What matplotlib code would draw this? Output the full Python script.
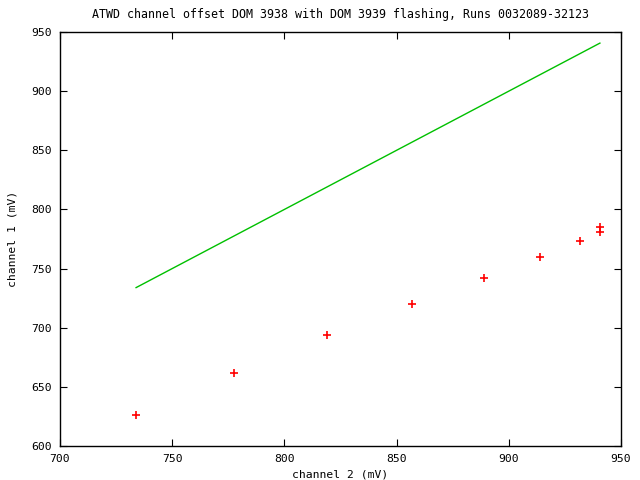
import matplotlib
matplotlib.use("Agg")
import matplotlib.pyplot as plt

ch2 = [733.9, 777.5, 819.0, 857.0, 889.0, 913.9, 931.7, 940.6, 940.6]
ch1 = [626.2, 661.7, 693.8, 720.0, 742.0, 759.6, 773.4, 784.9, 780.9]
line_x = [733.9, 940.6]
line_y = [733.9, 940.6]
xticks = [700, 750, 800, 850, 900, 950]
yticks = [600, 650, 700, 750, 800, 850, 900, 950]

plt.rcParams['font.family'] = ['DejaVu Sans Mono']
fig = plt.figure(figsize=(6.4, 4.8), dpi=100)
ax = fig.add_axes([60/640, 34/480, 561/640, 414/480])
ax.plot(line_x, line_y, color='#00c000', lw=1)
ax.plot(ch2, ch1, '+', color='#ff0000', ms=5.5, mew=1.2)
ax.set_xlim(700, 950)
ax.set_ylim(600, 950)
ax.set_xticks(xticks)
ax.set_yticks(yticks)
ax.tick_params(direction='in', top=True, right=True, labelsize=8.2, length=5, pad=6)
for s in ax.spines.values():
    s.set_linewidth(1)
ax.set_title('ATWD channel offset DOM 3938 with DOM 3939 flashing, Runs 0032089-32123', fontsize=8.4, pad=10)
ax.set_xlabel('channel 2 (mV)', fontsize=8.2, labelpad=4)
ax.set_ylabel('channel 1 (mV)', fontsize=8.2, labelpad=10)
fig.savefig('out.png', dpi=100)
